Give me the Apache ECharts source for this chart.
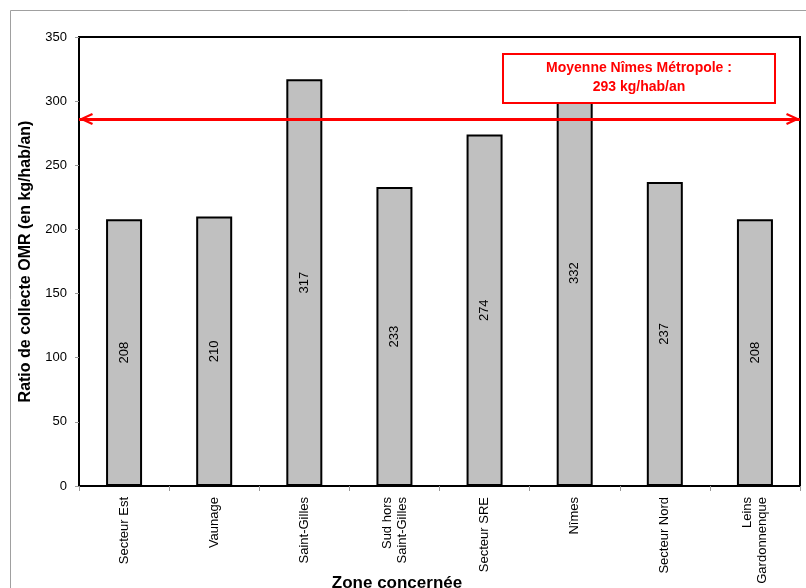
<!DOCTYPE html>
<html>
<head>
<meta charset="utf-8">
<script src="https://cdn.jsdelivr.net/npm/echarts@6/dist/echarts.min.js"></script>
<style>
  html, body { margin: 0; padding: 0; background: #fff; }
  #chart { width: 806px; height: 588px; }
</style>
</head>
<body>
<div id="chart"></div>
<script>
// zones and collected ratios (kg/hab/an)
var zones = ['Secteur Est', 'Vaunage', 'Saint-Gilles', 'Sud hors\nSaint-Gilles', 'Secteur SRE', 'Nîmes', 'Secteur Nord', 'Leins\nGardonnenque']
var ratios = [208, 210, 317, 233, 274, 332, 237, 208]
// red arrow, where the picture draws it
var avgLine = 286
var avgText = ['Moyenne Nîmes Métropole :', '293 kg/hab/an']

var font = "'Liberation Sans', Arial, sans-serif"
var chart = echarts.init(document.getElementById('chart'))

// open chevron, pointing up (rotated by markLine)
var chevron = 'path://M6,0 L12,13 L10,14 L6,5 L2,14 L0,13 Z'

chart.setOption({
  animation: false,
  backgroundColor: '#fff',
  textStyle: { fontFamily: font },
  grid: {
    left: 79,
    right: 6,
    top: 37,
    bottom: 102,
    outerBoundsMode: 'none',
    containLabel: false,
    show: true,
    borderColor: '#000',
    borderWidth: 2,
    backgroundColor: 'transparent'
  },
  xAxis: {
    type: 'category',
    data: zones,
    name: 'Zone concernée',
    nameLocation: 'middle',
    nameGap: 89,
    nameMoveOverlap: false,
    nameTextStyle: {
      fontSize: 17,
      fontWeight: 'bold',
      color: '#000',
      padding: [0, 85, 0, 0]
    },
    axisLine: { lineStyle: { color: '#000', width: 2 } },
    axisTick: { show: true, length: 5, lineStyle: { color: '#999' } },
    axisLabel: {
      rotate: 90,
      interval: 0,
      margin: 11,
      fontSize: 13,
      lineHeight: 15,
      color: '#000'
    }
  },
  yAxis: {
    type: 'value',
    min: 0,
    max: 350,
    interval: 50,
    name: 'Ratio de collecte OMR (en kg/hab/an)',
    nameLocation: 'middle',
    nameGap: 45,
    nameMoveOverlap: false,
    nameTextStyle: { fontSize: 16, fontWeight: 'bold', color: '#000' },
    axisLine: { show: true, lineStyle: { color: '#000', width: 2 } },
    axisTick: { show: true, length: 4, lineStyle: { color: '#999' } },
    axisLabel: { fontSize: 13, color: '#000', margin: 12 },
    splitLine: { show: false }
  },
  series: [
    {
      type: 'bar',
      data: ratios,
      barWidth: 36,
      itemStyle: { color: '#C0C0C0', borderColor: '#000', borderWidth: 2 },
      label: {
        show: true,
        position: 'inside',
        rotate: 90,
        fontSize: 13,
        color: '#000'
      },
      markLine: {
        silent: true,
        symbol: [chevron, chevron],
        symbolSize: [12, 14],
        symbolOffset: [[0, 7], [0, 7]],
        lineStyle: { color: '#FF0000', width: 3, type: 'solid' },
        label: { show: false },
        data: [{ yAxis: avgLine }]
      }
    }
  ],
  graphic: [
    {
      type: 'rect',
      silent: true,
      z: -10,
      shape: { x: 10.5, y: 10.5, width: 900, height: 900 },
      style: { fill: 'none', stroke: '#a0a0a0', lineWidth: 1 }
    },
    {
      type: 'rect',
      z: 100,
      shape: { x: 503, y: 54, width: 272, height: 49 },
      style: { fill: '#fff', stroke: '#FF0000', lineWidth: 2 }
    },
    {
      type: 'text',
      z: 101,
      x: 639,
      y: 78,
      style: {
        text: avgText.join('\n'),
        fill: '#FF0000',
        font: 'bold 14px ' + font,
        lineHeight: 19,
        align: 'center',
        verticalAlign: 'middle'
      }
    }
  ]
})
</script>
</body>
</html>
